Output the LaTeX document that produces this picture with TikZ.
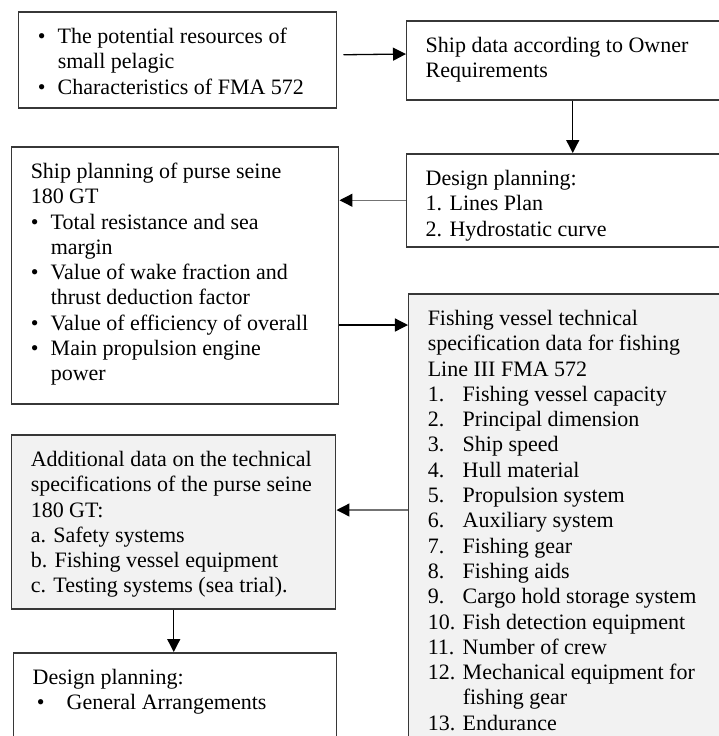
\documentclass[tikz,border=0pt]{standalone}
\usepackage{fontspec}
\setmainfont{Liberation Serif}
\usetikzlibrary{arrows.meta}
\definecolor{boxline}{RGB}{55,55,55}
\definecolor{boxgray}{RGB}{242,242,242}
\definecolor{arrgray}{RGB}{115,115,115}
\newcommand{\inbox}[3]{\parbox[t][#2][t]{#1}{\raggedright\strut#3}}
\newcommand{\bul}{\makebox[10pt][l]{\textbullet}}
\newcommand{\ind}{\hspace*{10pt}}
\newcommand{\itm}[1]{\makebox[17.5pt][l]{#1}}

\begin{document}
\begin{tikzpicture}[x=0.5pt, y=-0.5pt,
        box/.style={draw=boxline, line width=0.75pt, anchor=north west,
          inner xsep=9.5pt, inner ysep=7pt, font=\fontsize{11}{12.65}\selectfont},
        graybox/.style={box, fill=boxgray},
        arrow/.style={-{Triangle[length=6.5pt,width=6.5pt]}, line width=0.65pt},
        grayarrow/.style={arrow, draw=arrgray, -{Triangle[length=6.5pt,width=6.5pt,color=black]}}]
        \useasboundingbox (0,0) rectangle (719,736);
        \clip (0,0) rectangle (719,736);
        \node[box] (res) at (18,11) {\inbox{140pt}{34pt}{\bul The potential resources of\\
          \ind small pelagic\\
          \bul Characteristics of FMA 572}};
        \node[box] (own) at (406,20) {\inbox{147pt}{25.5pt}{Ship data according to Owner\\Requirements}};
        \node[box] (dp) at (406,153) {\inbox{147pt}{32.5pt}{Design planning:\\1. Lines Plan\\2. Hydrostatic curve}};
        \node[box] (spl) at (11,146) {\inbox{144.5pt}{114.5pt}{Ship planning of purse seine\\
          180 GT\\
          \bul Total resistance and sea\\
          \ind margin\\
          \bul Value of wake fraction and\\
          \ind thrust deduction factor\\
          \bul Value of efficiency of overall\\
          \bul Main propulsion engine\\
          \ind power}};
        \node[graybox] (spec) at (408,293) {\inbox{146pt}{236pt}{Fishing vessel technical\\
          specification data for fishing\\
          Line III FMA 572\\
          \itm{1.}Fishing vessel capacity\\
          \itm{2.}Principal dimension\\
          \itm{3.}Ship speed\\
          \itm{4.}Hull material\\
          \itm{5.}Propulsion system\\
          \itm{6.}Auxiliary system\\
          \itm{7.}Fishing gear\\
          \itm{8.}Fishing aids\\
          \itm{9.}Cargo hold storage system\\
          \itm{10.}Fish detection equipment\\
          \itm{11.}Number of crew\\
          \itm{12.}Mechanical equipment for\\
          \itm{}fishing gear\\
          \itm{13.}Endurance}};
        \node[graybox] (add) at (11,434) {\inbox{143pt}{73pt}{Additional data on the technical\\
          specifications of the purse seine\\
          180 GT:\\
          a. Safety systems\\
          b. Fishing vessel equipment\\
          c. Testing systems (sea trial).}};
        \node[box] (ga) at (13,652) {\inbox{142.5pt}{46pt}{Design planning:\\
          \hspace*{2pt}\makebox[15pt][l]{\textbullet}General Arrangements}};
        % connectors
        \draw[arrow] ([shift={(3pt,2.5pt)}]res.east) -- (own.west |- 0,54);
        \draw[arrow] (own.south) -- (dp.north);
        \draw[grayarrow] (dp.west) -- (dp.west -| spl.east);
        \draw[arrow] (spl.east |- 0,325) -- (spec.west |- 0,325);
        \draw[grayarrow] (spec.west |- 0,510) -- (add.east |- 0,510);
        \draw[arrow] (add.south) -- (add.south |- ga.north);
      \end{tikzpicture}
\end{document}
